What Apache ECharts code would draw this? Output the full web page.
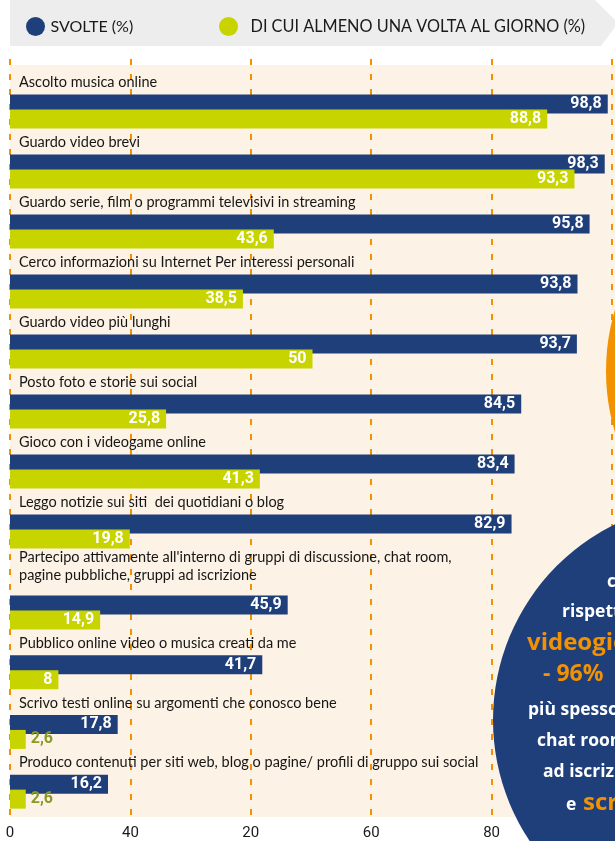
<!DOCTYPE html>
<html>
<head>
<meta charset="utf-8">
<script src="https://cdn.jsdelivr.net/npm/echarts@6/dist/echarts.min.js"></script>
<style>
  html, body { margin: 0; padding: 0; background: #fff; }
  #chart { width: 615px; height: 841px; }
</style>
</head>
<body>
<div id="chart"></div>
<script>
// categorie (dall'alto in basso)
var categories = [
    'Ascolto musica online',
    'Guardo video brevi',
    'Guardo serie, film o programmi televisivi in streaming',
    'Cerco informazioni su Internet Per interessi personali',
    'Guardo video più lunghi',
    'Posto foto e storie sui social',
    'Gioco con i videogame online',
    'Leggo notizie sui siti  dei quotidiani o blog',
    "Partecipo attivamente all'interno di gruppi di discussione, chat room,\npagine pubbliche, gruppi ad iscrizione",
    'Pubblico online video o musica creati da me',
    'Scrivo testi online su argomenti che conosco bene',
    'Produco contenuti per siti web, blog o pagine/ profili di gruppo sui social'
];
var svolte = [98.8, 98.3, 95.8, 93.8, 93.7, 84.5, 83.4, 82.9, 45.9, 41.7, 17.8, 16.2];
var almenoUnaVolta = [88.8, 93.3, 43.6, 38.5, 50, 25.8, 41.3, 19.8, 14.9, 8, 2.6, 2.6];
// etichette asse x così come stampate nell'originale
var xTickLabels = ['0', '40', '20', '60', '80'];

var NAVY = '#1F3F7B';
var LIME = '#C8D400';
var ORANGE = '#F39200';
var BEIGE = '#FCF2E5';
var FONT = 'Lato, "Noto Sans", sans-serif';
var NUM = 'Roboto, "Liberation Sans", sans-serif';
var BOLD = '"Open Sans", "Noto Sans", sans-serif';
var S1 = 'SVOLTE (%)';
var S2 = 'DI CUI ALMENO UNA VOLTA AL GIORNO (%)';

// la riga con etichetta su due righe ha più spazio: due blocchi di righe
var SPLIT = 8;

var myChart = echarts.init(document.getElementById('chart'), null, { renderer: 'canvas' });

function fmt(p) {
    return String(p.value).replace('.', ',');
}

var valueLabel = {
    show: true, position: 'insideRight', distance: 6,
    formatter: fmt, color: '#fff',
    fontFamily: NUM, fontWeight: 'bold', fontSize: 16
};

var catLabelStyle = {
    verticalAlign: 'bottom',
    lineHeight: 18,
    padding: [0, 0, 20, 0],
    fontFamily: FONT,
    fontSize: 14.5,
    color: '#161616'
};

function hiddenX(i) {
    return {
        gridIndex: i, type: 'value', min: 0, max: 100, interval: 20,
        axisLabel: { show: false }, axisLine: { show: false },
        axisTick: { show: false }, splitLine: { show: false }
    };
}

function catY(i, cats, min) {
    var ax = {
        gridIndex: i,
        type: 'category',
        inverse: true,
        // l'etichetta su due righe va alzata di una riga in più
        data: cats.map(function (c) {
            if (c.indexOf('\n') < 0) return c;
            return {
                value: c,
                textStyle: Object.assign({}, catLabelStyle, { padding: [0, 0, 28, 0] })
            };
        }),
        axisLine: { show: false },
        axisTick: { show: false },
        axisLabel: Object.assign({
            inside: true,
            interval: 0,
            hideOverlap: false,
            margin: 9,
            align: 'left'
        }, catLabelStyle)
    };
    if (min !== undefined) ax.min = min;
    return ax;
}

function barSeries(name, idx, values, color) {
    return {
        name: name,
        type: 'bar',
        xAxisIndex: idx, yAxisIndex: idx,
        data: values.map(function (v) {
            return v < 5 ? { value: v, label: { position: 'right', color: '#8A9A28', distance: 5 } } : v;
        }),
        barWidth: 19,
        barGap: '-21%',
        itemStyle: { color: color },
        label: valueLabel
    };
}

const option = {
    backgroundColor: '#fff',
    animation: false,
    legend: [
        {
            left: 21, top: 12, icon: 'circle', itemWidth: 20, itemHeight: 19,
            textStyle: { fontFamily: FONT, fontSize: 16, color: '#1a1a1a' },
            data: [S1]
        },
        {
            left: 214, top: 12, icon: 'circle', itemWidth: 20, itemHeight: 19,
            textStyle: { fontFamily: FONT, fontSize: 16.3, color: '#1a1a1a', padding: [0, 0, 0, 7] },
            data: [S2]
        }
    ],
    grid: [
        { left: 10, right: -2, top: 81.5, height: 480 },
        // una banda vuota in testa lascia spazio all'etichetta su due righe
        { left: 10, right: -2, top: 522.9, height: 298.6 },
        { left: 10, right: -2, top: 59, bottom: 19 }
    ],
    xAxis: [
        hiddenX(0),
        hiddenX(1),
        {
            gridIndex: 2, type: 'value', min: 0, max: 100, interval: 20,
            axisLine: { show: false }, axisTick: { show: false },
            splitLine: {
                show: true,
                lineStyle: { color: ORANGE, width: 2, type: [6, 9] }
            },
            axisLabel: {
                margin: 7,
                fontFamily: NUM,
                fontSize: 15,
                color: '#1a1a1a',
                formatter: function (v) {
                    var i = Math.round(v / 20);
                    return xTickLabels[i] !== undefined ? xTickLabels[i] : '';
                }
            }
        }
    ],
    yAxis: [
        catY(0, categories.slice(0, SPLIT)),
        catY(1, categories.slice(SPLIT), -1),
        { gridIndex: 2, type: 'value', show: false }
    ],
    series: [
        barSeries(S1, 0, svolte.slice(0, SPLIT), NAVY),
        barSeries(S2, 0, almenoUnaVolta.slice(0, SPLIT), LIME),
        barSeries(S1, 1, svolte.slice(SPLIT), NAVY),
        barSeries(S2, 1, almenoUnaVolta.slice(SPLIT), LIME)
    ],
    graphic: [
        // fascia grigia della legenda
        {
            type: 'polygon', z: -10, silent: true,
            shape: { points: [[10, 0], [595, 0], [618, 23], [601, 46], [10, 46]] },
            style: { fill: '#EDEDED' }
        },
        // fondo beige
        {
            type: 'rect', z: -10, silent: true,
            shape: { x: 10, y: 65, width: 605, height: 752 },
            style: { fill: BEIGE }
        },
        // cerchi decorativi a destra
        {
            type: 'circle', z: 100, silent: true,
            shape: { cx: 820, cy: 371, r: 214 },
            style: { fill: ORANGE }
        },
        {
            type: 'circle', z: 100, silent: true,
            shape: { cx: 711, cy: 720, r: 218 },
            style: { fill: NAVY }
        },
        { type: 'text', z: 101, x: 607, y: 582, style: { text: 'c', fill: '#fff', font: 'bold 17px ' + BOLD, verticalAlign: 'middle' } },
        { type: 'text', z: 101, x: 562, y: 612, style: { text: 'rispetto', fill: '#fff', font: 'bold 17.5px ' + BOLD, verticalAlign: 'middle' } },
        { type: 'text', z: 101, x: 527, y: 643, style: { text: 'videogiochi', fill: ORANGE, font: 'bold 24px ' + BOLD, verticalAlign: 'middle' } },
        { type: 'text', z: 101, x: 543, y: 674, style: { text: '- 96%', fill: ORANGE, font: 'bold 23px ' + BOLD, verticalAlign: 'middle' } },
        { type: 'text', z: 101, x: 528, y: 710, style: { text: 'più spesso', fill: '#fff', font: 'bold 17.5px ' + BOLD, verticalAlign: 'middle' } },
        { type: 'text', z: 101, x: 537, y: 741, style: { text: 'chat room', fill: '#fff', font: 'bold 17.5px ' + BOLD, verticalAlign: 'middle' } },
        { type: 'text', z: 101, x: 543, y: 772, style: { text: 'ad iscrizione', fill: '#fff', font: 'bold 17.5px ' + BOLD, verticalAlign: 'middle' } },
        { type: 'text', z: 101, x: 566, y: 805, style: { text: 'e', fill: '#fff', font: 'bold 17.5px ' + BOLD, verticalAlign: 'middle' } },
        { type: 'text', z: 101, x: 583, y: 803, style: { text: 'scrivono', fill: ORANGE, font: 'bold 24px ' + BOLD, verticalAlign: 'middle' } }
    ]
};

myChart.setOption(option);
</script>
</body>
</html>
